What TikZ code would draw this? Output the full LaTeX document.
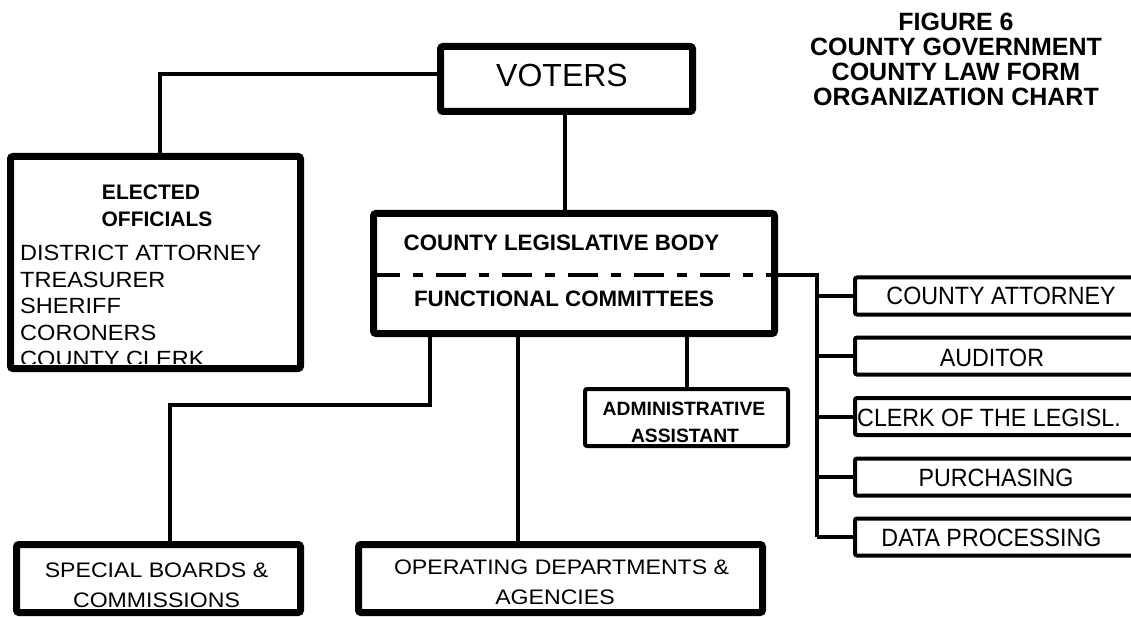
\documentclass[tikz,border=0pt]{standalone}
\usepackage{fontspec}
\setmainfont{Liberation Sans}
\newfontfamily\listsans[FakeStretch=1.07]{Liberation Sans}
\newfontfamily\widesans[FakeStretch=1.1]{Liberation Sans}
\newfontfamily\narrowsans[FakeStretch=0.93]{Liberation Sans}
\usetikzlibrary{calc}

\begin{document}
\begin{tikzpicture}[x=1pt,y=-1pt,
  heavybox/.style={draw, line width=7pt, rounded corners=2.5pt, inner sep=0pt},
  lightbox/.style={draw, line width=4pt, rounded corners=2pt, inner sep=0pt},
  link/.style={line width=4pt},
  divider/.style={line width=4.5pt, dash pattern=on 30pt off 13pt on 10pt off 13pt},
  lbl/.style={inner sep=0pt, anchor=base},
  staff/.style={lbl, font=\narrowsans\fontsize{25}{25}\selectfont},
  ]
\useasboundingbox (0,0) rectangle (1131,617);
\fill[white] (0,0) rectangle (1131,617);
\clip (0,0) rectangle (1131,617);

% heading
\node[inner sep=0pt, anchor=north, align=center,
      font=\bfseries\fontsize{25}{25}\selectfont] (title) at (956,13)
  {FIGURE 6\\COUNTY GOVERNMENT\\COUNTY LAW FORM\\ORGANIZATION CHART};

% frames
\node[heavybox, minimum width=252pt, minimum height=65pt]  (voters)    at (566.5,79)    {};
\node[heavybox, minimum width=290pt, minimum height=212pt] (elected)   at (155.5,262.5) {};
\node[heavybox, minimum width=401pt, minimum height=120pt] (legis)     at (574,273.5)   {};
\node[lightbox, minimum width=203pt, minimum height=57pt]  (admin)     at (686.5,417.5) {};
\node[heavybox, minimum width=284pt, minimum height=68pt]  (special)   at (158.5,578.5) {};
\node[heavybox, minimum width=404pt, minimum height=68pt]  (operating) at (560.5,578.5) {};
\node[lightbox, minimum width=283pt, minimum height=37pt]  (r1) at (996.5,296)   {};
\node[lightbox, minimum width=283pt, minimum height=37pt]  (r2) at (996.5,356)   {};
\node[lightbox, minimum width=283pt, minimum height=37pt]  (r3) at (996.5,416.5) {};
\node[lightbox, minimum width=283pt, minimum height=37pt]  (r4) at (996.5,477)   {};
\node[lightbox, minimum width=283pt, minimum height=37pt]  (r5) at (996.5,537)   {};

% labels
\node[lbl, font=\fontsize{32}{32}\selectfont] (votersText) at (562,87) {VOTERS};

\node[lbl, font=\bfseries\fontsize{21}{21}\selectfont] (electedA) at (151,200) {ELECTED};
\node[lbl, font=\bfseries\fontsize{21}{21}\selectfont] (electedB) at (157,227) {OFFICIALS};
\begin{scope}
  \clip (14,160) rectangle (297,363);
  \node[inner sep=0pt, anchor=north west, align=left,
        font=\listsans\fontsize{22}{26.5}\selectfont] (officials) at (20,245)
    {DISTRICT ATTORNEY\\TREASURER\\SHERIFF\\CORONERS\\COUNTY CLERK};
\end{scope}

\node[lbl, font=\bfseries\fontsize{22.3}{22.3}\selectfont] (legisA) at (561.5,251) {COUNTY LEGISLATIVE BODY};
\node[lbl, font=\bfseries\fontsize{22.3}{22.3}\selectfont] (legisB) at (564,306) {FUNCTIONAL COMMITTEES};

\node[lbl, font=\bfseries\fontsize{19.3}{19.3}\selectfont] (adminA) at (684,415) {ADMINISTRATIVE};
\node[lbl, font=\bfseries\fontsize{19.3}{19.3}\selectfont] (adminB) at (685,442) {ASSISTANT};

\node[lbl, font=\widesans\fontsize{21}{21}\selectfont] (specialA) at (156.5,577) {SPECIAL BOARDS \&};
\node[lbl, font=\widesans\fontsize{21}{21}\selectfont] (specialB) at (156.5,607) {COMMISSIONS};
\node[lbl, font=\widesans\fontsize{21}{21}\selectfont] (operA) at (561.5,574) {OPERATING DEPARTMENTS \&};
\node[lbl, font=\widesans\fontsize{21}{21}\selectfont] (operB) at (555,604) {AGENCIES};

\node[staff] (r1Text) at (1001,305) {COUNTY ATTORNEY};
\node[staff] (r2Text) at (992,366) {AUDITOR};
\node[staff, anchor=base west] (r3Text) at (857,426) {CLERK OF THE LEGISL.};
\node[staff] (r4Text) at (996,486.5) {PURCHASING};
\node[staff] (r5Text) at (991.5,546.5) {DATA PROCESSING};

% connectors
\coordinate (bus)  at (817,275);
\coordinate (j1)   at (170,405);
\coordinate (colA) at (430,0);
\coordinate (colB) at (518,0);

\draw[link] ([yshift=5pt]voters.west) -| ([xshift=4.5pt]elected.north);
\draw[link] ([xshift=-1.5pt]voters.south) -- ([xshift=-1.5pt]voters.south |- legis.north);
\draw[divider] (legis.west |- bus) -- (legis.east |- bus);
\draw[link] (legis.east |- bus) -- (bus) -- (bus |- r5.west);
\foreach \r in {r1,r2,r3,r4,r5}
  \draw[link] (bus |- \r.west) -- (\r.west);
\draw[link] (colA |- legis.south) |- (j1) -- (j1 |- special.north);
\draw[link] (colB |- legis.south) -- (colB |- operating.north);
\draw[link] (admin.north) -- (admin.north |- legis.south);
\end{tikzpicture}
\end{document}
